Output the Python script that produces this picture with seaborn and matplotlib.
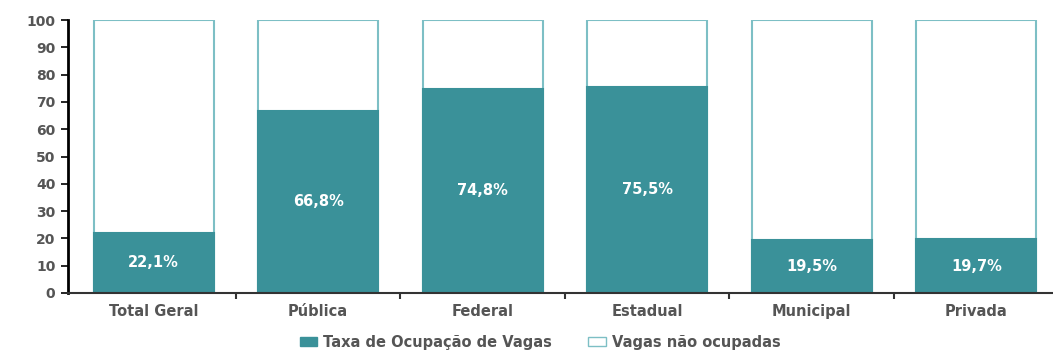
import matplotlib
matplotlib.use("Agg")
import matplotlib.pyplot as plt
import seaborn as sns
import pandas as pd
from matplotlib.patches import Patch

categories = ["Total Geral", "Pública", "Federal", "Estadual", "Municipal", "Privada"]
ocupacao = [22.1, 66.8, 74.8, 75.5, 19.5, 19.7]
labels = ["22,1%", "66,8%", "74,8%", "75,5%", "19,5%", "19,7%"]
total = [100, 100, 100, 100, 100, 100]
yticks = [0, 10, 20, 30, 40, 50, 60, 70, 80, 90, 100]

sns.set_theme(style="white")
plt.rcParams['font.family'] = ['DejaVu Sans']

teal = "#3A9199"
edge = "#7DBFC5"
grey = "#555555"

df = pd.DataFrame({"cat": categories, "occ": ocupacao, "tot": total})

fig = plt.figure(figsize=(10.53, 3.52), dpi=100)
ax = fig.add_axes([68/1053, 1 - 293/352, 1 - 68/1053 + 0.01, (293 - 20)/352])

sns.barplot(data=df, x="cat", y="tot", color="white", edgecolor=edge, linewidth=1.5,
            width=0.73, ax=ax, saturation=1)
sns.barplot(data=df, x="cat", y="occ", color=teal, edgecolor=teal, linewidth=1.5,
            width=0.73, ax=ax, saturation=1)

for i, (v, lab) in enumerate(zip(ocupacao, labels)):
    ax.text(i, v / 2, lab, ha="center", va="center", color="white",
            fontsize=10.5, fontweight="bold")

ax.set_xlim(-0.52, 5.53)
ax.set_ylim(0, 100)
ax.set_yticks(yticks)
ax.set_xlabel("")
ax.set_ylabel("")
ax.tick_params(axis="y", direction="out", length=5, width=1.2, color="black",
               labelsize=10, labelcolor=grey, left=True, pad=4)
ax.tick_params(axis="x", which="major", length=0, labelsize=10.5, labelcolor=grey, pad=8)
ax.set_xticks([i + 0.5 for i in range(5)], minor=True)
ax.tick_params(axis="x", which="minor", direction="out", length=4, width=1.5, color="#333333", bottom=True)
for lab in ax.get_xticklabels() + ax.get_yticklabels():
    lab.set_fontweight("bold")

for s in ["top", "right"]:
    ax.spines[s].set_visible(False)
ax.spines["left"].set_color("black")
ax.spines["left"].set_linewidth(2)
ax.spines["bottom"].set_color("#333333")
ax.spines["bottom"].set_linewidth(1.5)

handles = [Patch(facecolor=teal, edgecolor=teal, label="Taxa de Ocupação de Vagas"),
           Patch(facecolor="white", edgecolor=edge, label="Vagas não ocupadas")]
leg = fig.legend(handles=handles, loc="center", bbox_to_anchor=(540/1053, 1 - 342/352),
                 ncol=2, frameon=False, fontsize=10.5, handlelength=1.2, handleheight=0.6,
                 columnspacing=2.5, handletextpad=0.4)
for t in leg.get_texts():
    t.set_color(grey)
    t.set_fontweight("bold")

fig.savefig("out.png", dpi=100)
